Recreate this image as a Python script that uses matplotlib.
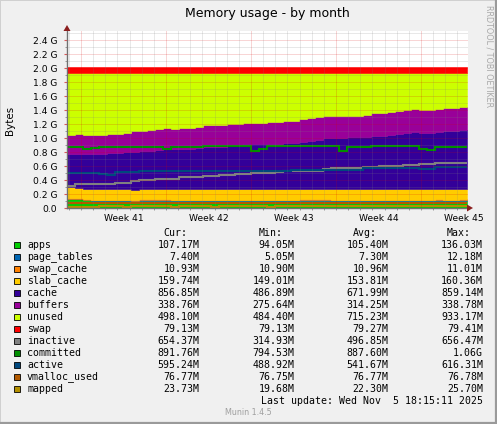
import numpy as np
import matplotlib
matplotlib.use('Agg')
import matplotlib.pyplot as plt
from matplotlib.patches import Polygon, Rectangle

# ---------------- data (MiB), one sample per ~16 h ----------------
apps = [130, 128, 112, 106, 104, 103, 105, 104, 102, 104,
        106, 105, 103, 104, 105, 104, 106, 105, 104, 103,
        105, 104, 106, 105, 104, 103, 104, 105, 106, 104,
        103, 105, 104, 106, 105, 104, 103, 105, 104, 106,
        105, 104, 103, 105, 104, 106, 105, 104, 106, 107.17]
page_tables = [7.2, 7.1, 7.0, 7.3, 7.2, 7.1, 7.3, 7.2, 7.0, 11,
               12, 12, 11, 7.3, 7.2, 7.1, 7.3, 7.2, 7.1, 7.3,
               7.2, 7.1, 7.3, 7.2, 7.1, 7.3, 7.2, 7.1, 7.3, 11,
               12, 12, 11, 7.3, 7.2, 7.1, 7.3, 7.2, 7.1, 7.3,
               7.2, 7.1, 7.3, 7.2, 7.1, 7.3, 10, 7.2, 7.3, 7.40]
swap_cache = [11.0, 11.0, 10.9, 11.0, 11.0, 10.9, 11.0, 11.0, 10.9, 11.0,
              11.0, 10.9, 11.0, 11.0, 10.9, 11.0, 11.0, 10.9, 11.0, 11.0,
              10.9, 11.0, 11.0, 10.9, 11.0, 11.0, 10.9, 11.0, 11.0, 10.9,
              11.0, 11.0, 10.9, 11.0, 11.0, 10.9, 11.0, 11.0, 10.9, 11.0,
              11.0, 10.9, 11.0, 11.0, 10.9, 11.0, 11.0, 10.9, 11.0, 10.93]
slab_cache = [152, 152, 153, 153, 152, 153, 152, 153, 150, 149,
              149, 150, 152, 153, 153, 153, 152, 152, 153, 153,
              152, 150, 150, 150, 151, 150, 151, 150, 153, 155,
              155, 156, 155, 155, 154, 155, 155, 156, 155, 155,
              156, 155, 155, 154, 150, 151, 156, 158, 159, 159.74]
cache = [488, 495, 503, 511, 514, 528, 529, 539, 551, 555,
         560, 570, 579, 582, 589, 588, 598, 614, 616, 623,
         629, 630, 662, 658, 662, 669, 665, 678, 672, 691,
         706, 717, 744, 744, 750, 756, 757, 758, 775, 777,
         789, 806, 824, 835, 832, 827, 828, 845, 843, 856.85]
buffers = [276, 285, 282, 280, 280, 284, 282, 288, 300, 302,
           308, 312, 314, 303, 310, 312, 315, 320, 318, 322,
           330, 332, 312, 312, 308, 318, 320, 322, 324, 330,
           334, 330, 320, 322, 324, 318, 318, 330, 332, 328,
           336, 336, 334, 336, 330, 332, 338, 338, 337, 338.76]
unused = [915, 901, 911, 911, 911, 893, 893, 877, 858, 847,
          833, 819, 809, 819, 804, 804, 790, 770, 770, 760,
          745, 745, 731, 736, 736, 721, 721, 706, 706, 677,
          658, 648, 634, 634, 628, 628, 628, 612, 595, 595,
          575, 560, 545, 531, 545, 545, 531, 516, 516, 498.10]
swap = [79.41, 79.41, 79.40, 79.40, 79.39, 79.39, 79.38, 79.38, 79.37, 79.37,
        79.36, 79.35, 79.34, 79.33, 79.32, 79.31, 79.30, 79.30, 79.29, 79.28,
        79.27, 79.27, 79.26, 79.26, 79.25, 79.25, 79.24, 79.24, 79.23, 79.23,
        79.22, 79.22, 79.21, 79.21, 79.20, 79.20, 79.19, 79.19, 79.18, 79.18,
        79.17, 79.17, 79.16, 79.16, 79.15, 79.15, 79.14, 79.14, 79.13, 79.13]
inactive = [318, 346, 346, 346, 346, 346, 370, 370, 390, 410,
            410, 429, 429, 429, 449, 449, 449, 463, 463, 478,
            478, 493, 493, 507, 507, 507, 522, 537, 537, 546,
            546, 546, 570, 585, 590, 590, 590, 600, 600, 614,
            614, 614, 624, 630, 648, 648, 652, 652, 654, 654.37]
committed = [897, 897, 858, 878, 897, 897, 897, 897, 897, 897,
             897, 897, 868, 888, 888, 888, 888, 903, 903, 903,
             903, 903, 903, 829, 868, 903, 903, 903, 903, 903,
             903, 903, 903, 903, 834, 897, 897, 897, 907, 907,
             907, 907, 907, 907, 870, 844, 897, 897, 897, 891.76]
active = [512, 512, 512, 512, 492, 490, 522, 522, 522, 537,
          537, 537, 537, 537, 537, 537, 537, 545, 545, 545,
          545, 545, 545, 548, 548, 548, 548, 548, 560, 560,
          560, 560, 560, 562, 562, 562, 562, 580, 580, 580,
          580, 580, 580, 580, 565, 565, 600, 604, 600, 595.24]
vmalloc_used = [76.78, 76.78, 76.77, 76.77, 76.77, 76.76, 76.77, 76.77, 76.78, 76.77,
                76.77, 76.77, 76.76, 76.77, 76.77, 76.78, 76.77, 76.77, 76.77, 76.76,
                76.77, 76.77, 76.78, 76.77, 76.77, 76.77, 76.76, 76.77, 76.77, 76.78,
                76.77, 76.77, 76.77, 76.76, 76.77, 76.77, 76.78, 76.77, 76.77, 76.77,
                76.76, 76.77, 76.77, 76.78, 76.77, 76.77, 76.77, 76.76, 76.77, 76.77]
mapped = [20.5, 21.0, 21.5, 21.8, 22.0, 22.1, 22.3, 21.9, 22.2, 22.5,
          22.6, 22.3, 22.0, 21.8, 22.1, 22.4, 22.6, 22.2, 21.9, 22.0,
          22.3, 22.5, 22.8, 22.4, 22.1, 21.9, 22.2, 22.6, 22.9, 23.1,
          22.7, 22.4, 22.2, 22.5, 22.8, 23.0, 22.6, 22.3, 22.1, 22.4,
          22.7, 23.0, 23.2, 22.8, 22.5, 22.3, 22.6, 23.0, 23.4, 23.73]

labels = ['apps', 'page_tables', 'swap_cache', 'slab_cache', 'cache', 'buffers',
          'unused', 'swap', 'inactive', 'committed', 'active', 'vmalloc_used', 'mapped']
colors = ['#00CC00', '#0066B3', '#FF8000', '#FFCC00', '#330099', '#990099',
          '#CCFF00', '#FF0000', '#808080', '#008F00', '#00487D', '#B35A00', '#B38F00']
cur_txt = ['107.17M', '7.40M', '10.93M', '159.74M', '856.85M', '338.76M', '498.10M',
           '79.13M', '654.37M', '891.76M', '595.24M', '76.77M', '23.73M']
min_txt = ['94.05M', '5.05M', '10.90M', '149.01M', '486.89M', '275.64M', '484.40M',
           '79.13M', '314.93M', '794.53M', '488.92M', '76.75M', '19.68M']
avg_txt = ['105.40M', '7.30M', '10.96M', '153.81M', '671.99M', '314.25M', '715.23M',
           '79.27M', '496.85M', '887.60M', '541.67M', '76.77M', '22.30M']
max_txt = ['136.03M', '12.18M', '11.01M', '160.36M', '859.14M', '338.78M', '933.17M',
           '79.41M', '656.47M', '1.06G', '616.31M', '76.78M', '25.70M']
week_labels = ['Week 41', 'Week 42', 'Week 43', 'Week 44', 'Week 45']
ytick_vals = [0.0, 0.2, 0.4, 0.6, 0.8, 1.0, 1.2, 1.4, 1.6, 1.8, 2.0, 2.2, 2.4]

# ---------------- figure ----------------
W, H = 497, 424
fig = plt.figure(figsize=(W / 100, H / 100), dpi=100)
fig.patch.set_facecolor('#F0F0F0')


def fx(x):
    return x / W


def fy(y):
    return 1 - y / H


PX_DAY = 12.143
PX_G = 70.0
X0, X1, Y0, Y1 = 67, 468, 208, 31
ax = fig.add_axes([fx(X0), fy(Y0), (X1 - X0) / W, (Y0 - Y1) / H])
xmax = (X1 - X0) / PX_DAY
ymax = (Y0 - Y1) / PX_G
ax.set_xlim(0, xmax)
ax.set_ylim(0, ymax)
ax.set_facecolor('white')

n = len(apps)
step = 8 / PX_DAY
edges = np.arange(n + 1) * step
xs = np.repeat(edges, 2)[1:-1]

area_series = [apps, page_tables, swap_cache, slab_cache, cache, buffers, unused, swap]
base = np.zeros(n)
for vals, col in zip(area_series, colors[:8]):
    top = base + np.asarray(vals, float) / 1024
    ax.fill_between(xs, np.repeat(base, 2), np.repeat(top, 2), facecolor=col,
                    edgecolor=col, lw=0.4, zorder=1)
    base = top

line_series = [inactive, committed, active, vmalloc_used, mapped]
for vals, col in zip(line_series, colors[8:]):
    y = np.asarray(vals, float) / 1024
    ax.plot(xs, np.repeat(y, 2), color=col, lw=1.5, zorder=3,
            solid_joinstyle='miter', solid_capstyle='butt')

# grid (drawn over data like rrdtool)
dots = (0, (1, 1))
minor_c = (0.5, 0.5, 0.5, 0.35)
major_c = (0.85, 0.0, 0.0, 0.33)
for v in np.arange(0.1, ymax, 0.2):
    ax.axhline(v, color=minor_c, lw=0.72, ls=dots, zorder=4)
for v in ytick_vals[1:] + [2.6]:
    if v < ymax:
        ax.axhline(v, color=major_c, lw=0.72, ls=dots, zorder=4)
week_start = (81 - X0) / PX_DAY
for k in range(-2, 40):
    d = week_start + k
    if 0 < d < xmax:
        c = major_c if k % 7 == 0 else minor_c
        ax.axvline(d, color=c, lw=0.72, ls=dots, zorder=4)

for s in ['top', 'right']:
    ax.spines[s].set_visible(False)
for s in ['left', 'bottom']:
    ax.spines[s].set_color('#707070')
    ax.spines[s].set_linewidth(1.0)
    ax.spines[s].set_zorder(6)

ax.set_yticks(ytick_vals)
ax.set_yticklabels(['0.0'] + [f'{v:.1f} G' for v in ytick_vals[1:]])
ax.set_yticks(np.arange(0.1, 2.45, 0.2), minor=True)
ax.tick_params(axis='y', which='major', direction='out', length=2, width=0.8,
               color=(0.85, 0.35, 0.35), pad=5, labelsize=6.6)
ax.tick_params(axis='y', which='minor', direction='out', length=1.5, width=0.7,
               color=(0.6, 0.6, 0.6))

week_centers = week_start + 3.5 + 7 * np.arange(len(week_labels))
ax.set_xticks(week_centers)
ax.set_xticklabels(week_labels)
ax.tick_params(axis='x', which='major', length=0, pad=4, labelsize=6.6)
day_ticks = [week_start + k for k in range(-2, 40) if 0 < week_start + k < xmax]
ax.set_xticks(day_ticks, minor=True)
ax.tick_params(axis='x', which='minor', direction='out', length=1.5, width=0.7,
               color=(0.6, 0.6, 0.6))

# axis arrows
arrow_c = '#8B1E1E'
fig.patches.append(Polygon([(fx(67), fy(25)), (fx(63.5), fy(31)), (fx(70.5), fy(31))],
                           closed=True, transform=fig.transFigure, facecolor=arrow_c,
                           edgecolor='none', zorder=10))
fig.patches.append(Polygon([(fx(473), fy(208)), (fx(467), fy(204.5)), (fx(467), fy(211.5))],
                           closed=True, transform=fig.transFigure, facecolor=arrow_c,
                           edgecolor='none', zorder=10))

# texts
fig.text(fx(267), fy(14), 'Memory usage - by month', ha='center', va='center',
         fontsize=9.0, family='DejaVu Sans')
fig.text(fx(10.5), fy(120.5), 'Bytes', ha='center', va='center', rotation=90,
         fontsize=7.4, family='DejaVu Sans')
fig.text(fx(489.5), fy(56.5), 'RRDTOOL / TOBI OETIKER', ha='center', va='center',
         rotation=270, fontsize=5.8, color='#A8A8A8', family='DejaVu Sans')

mono = 'DejaVu Sans Mono'
fs = 7.1
hdr_y = 232.7
for txt, x in zip(['Cur:', 'Min:', 'Avg:', 'Max:'], [163.3, 258.3, 352.7, 446.7]):
    fig.text(fx(x), fy(hdr_y), txt, ha='left', va='center', fontsize=fs, family=mono)
for k, lab in enumerate(labels):
    y = 244.7 + 12 * k
    fig.patches.append(Rectangle((fx(13.5), fy(y + 3.3)), 6.5 / W, 6.5 / H,
                                 transform=fig.transFigure, facecolor=colors[k],
                                 edgecolor='black', lw=0.6))
    fig.text(fx(27), fy(y), lab, ha='left', va='center', fontsize=fs, family=mono)
    for txt, x in zip([cur_txt[k], min_txt[k], avg_txt[k], max_txt[k]],
                      [199.5, 294.5, 388.5, 483]):
        fig.text(fx(x), fy(y), txt, ha='right', va='center', fontsize=fs, family=mono)
fig.text(fx(483), fy(400.7), 'Last update: Wed Nov  5 18:15:11 2025', ha='right',
         va='center', fontsize=fs, family=mono)
fig.text(fx(248.5), fy(412.7), 'Munin 1.4.5', ha='center', va='center', fontsize=5.8,
         color='#A0A0A0', family='DejaVu Sans')

# frame (3D border)
fig.patches.append(Rectangle((0, 0), 1, 1, transform=fig.transFigure, fill=False,
                             edgecolor='#D0D0D0', lw=1.4))
fig.lines.append(plt.Line2D([fx(0), fx(497)], [fy(423), fy(423)], transform=fig.transFigure,
                            color='#9A9A9A', lw=1.6))
fig.lines.append(plt.Line2D([fx(496), fx(496)], [fy(0), fy(424)], transform=fig.transFigure,
                            color='#9A9A9A', lw=1.6))

fig.savefig('out.png', dpi=100, facecolor=fig.get_facecolor())
